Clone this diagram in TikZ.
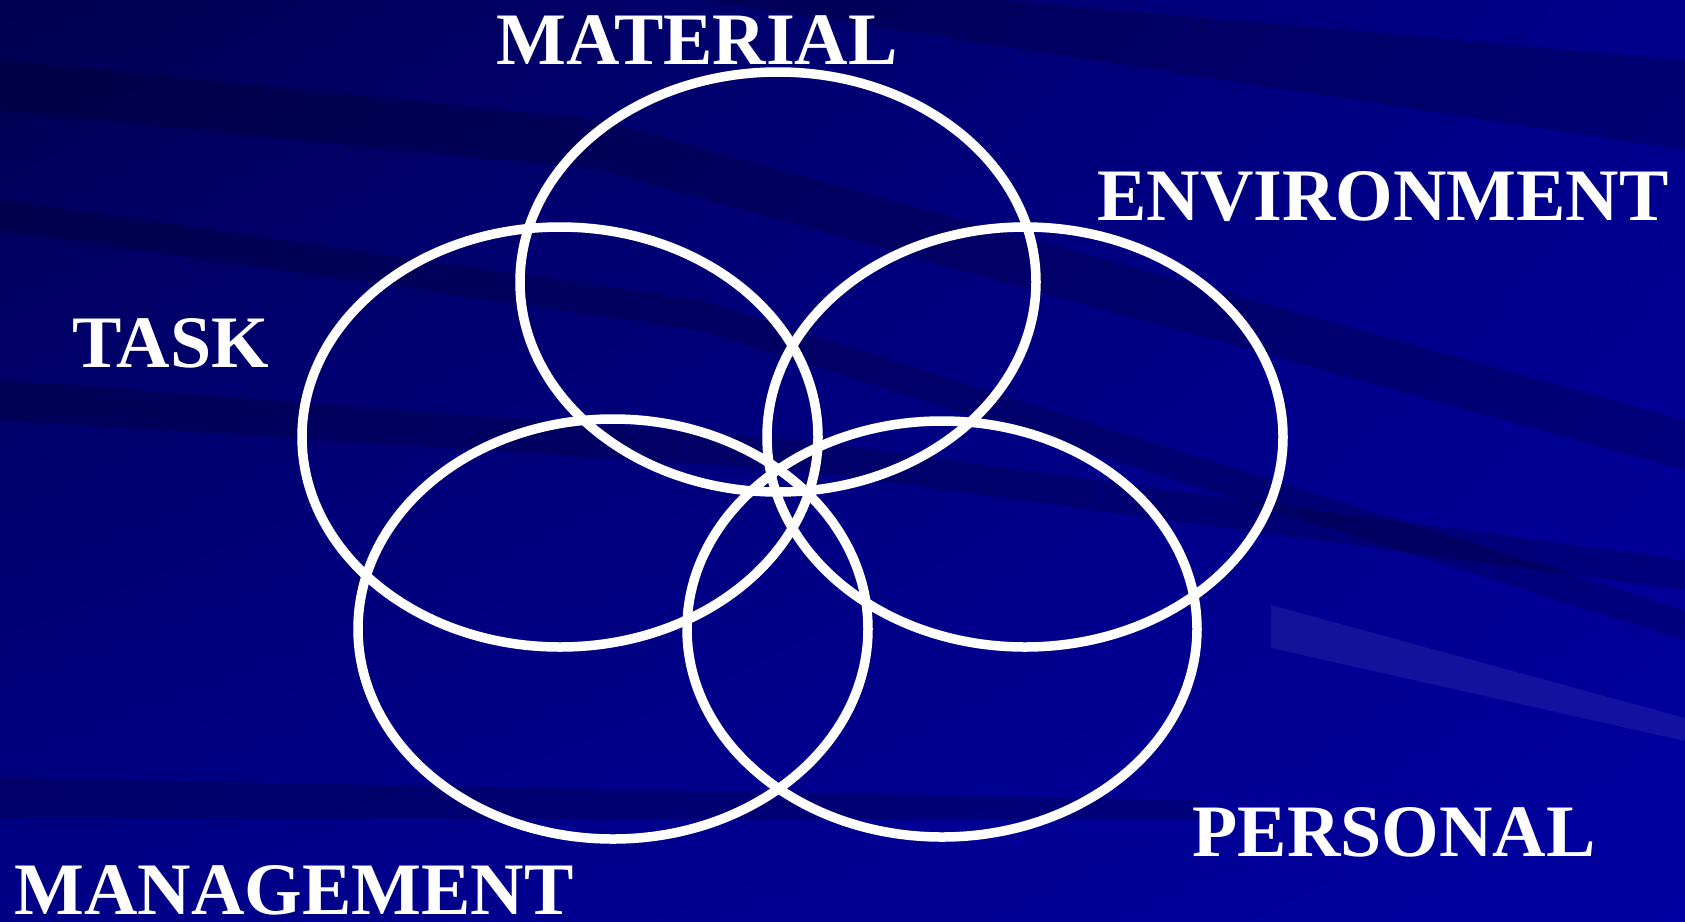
\documentclass[tikz,border=0pt]{standalone}
\usepackage{fontspec}
\setmainfont{Liberation Serif}
\usetikzlibrary{shadings,shapes.geometric}
\begin{document}
\begin{tikzpicture}[x=1pt,y=-1pt,
  ring/.style={draw=white,line width=9.5pt,ellipse,inner sep=0pt,minimum width=516pt,minimum height=420pt},
  lbl/.style={text=white,font=\fontsize{74}{80}\selectfont\bfseries,anchor=base,inner sep=0pt,text depth=0pt},
  streak/.style={fill=black,fill opacity=0.18},
  lightstreak/.style={fill=white,fill opacity=0.07}]
\definecolor{ul}{RGB}{0,0,82}
\definecolor{ur}{RGB}{0,0,140}
\definecolor{ll}{RGB}{0,0,135}
\definecolor{lr}{RGB}{0,0,160}
\useasboundingbox (0,0) rectangle (1685,921);
\shade[upper left=ul,upper right=ur,lower left=ll,lower right=lr] (0,0) rectangle (1685,921);
% streaks
\fill[streak] (0,60) -- (600,120) -- (1685,420) -- (1685,470) -- (600,170) -- (0,110) -- cycle;
\fill[streak] (0,230) -- (700,330) -- (1685,640) -- (1685,610) -- (700,300) -- (0,200) -- cycle;
\fill[streak] (0,0) -- (700,0) -- (1685,150) -- (1685,60) -- (1000,0) -- cycle;
\fill[streak] (0,380) -- (800,440) -- (1685,560) -- (1685,590) -- (800,470) -- (0,420) -- cycle;
\fill[streak] (0,778) -- (1200,800) -- (1200,820) -- (0,818) -- cycle;
\fill[lightstreak] (1271,605) -- (1685,718) -- (1685,741) -- (1271,648) -- cycle;
% ellipses
\node[ring] (material) at (778,282) {};
\node[ring] (task) at (560,437) {};
\node[ring] (environment) at (1025,437) {};
\node[ring,minimum width=510pt] (management) at (613,629) {};
\node[ring,minimum width=510pt,minimum height=416pt] (personal) at (942,629) {};
% labels
\node[lbl] (tmaterial) at (697,64) {MATERIAL};
\node[lbl] (tenvironment) at (1383,220) {ENVIRONMENT};
\node[lbl] (ttask) at (171,367) {TASK};
\node[lbl] (tmanagement) at (294,914) {MANAGEMENT};
\node[lbl] (tpersonal) at (1394,856) {PERSONAL};
\end{tikzpicture}
\end{document}
